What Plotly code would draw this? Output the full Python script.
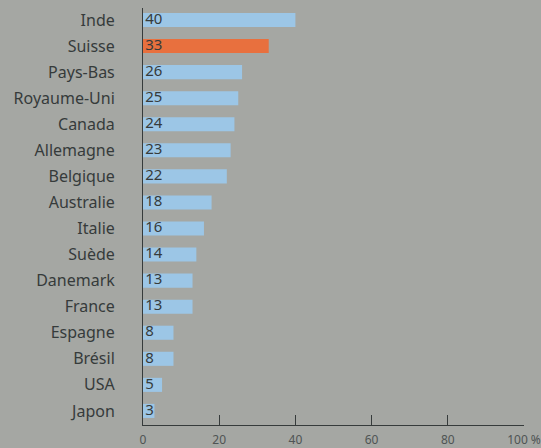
import plotly.graph_objects as go

countries = ["Inde", "Suisse", "Pays-Bas", "Royaume-Uni", "Canada", "Allemagne",
             "Belgique", "Australie", "Italie", "Suède", "Danemark", "France",
             "Espagne", "Brésil", "USA", "Japon"]
values = [40, 33, 26, 25, 24, 23, 22, 18, 16, 14, 13, 13, 8, 8, 5, 3]
highlight = "Suisse"
tick_vals = [0, 20, 40, 60, 80, 100]
tick_text = ["0", "20", "40", "60", "80", "100 %"]

BG = "#a5a7a3"
BLUE = "#9cc6e6"
ORANGE = "#e8703e"
INK = "#363b3b"

colors = [ORANGE if c == highlight else BLUE for c in countries]

fig = go.Figure()
fig.add_trace(go.Bar(
    x=values, y=countries, orientation="h",
    marker=dict(color=colors, line=dict(width=0)),
    width=0.54, hoverinfo="x+y",
))
fig.add_trace(go.Scatter(
    x=[0.6] * len(values), y=countries, mode="text",
    text=[str(v) for v in values], textposition="middle right",
    textfont=dict(family="Noto Sans", size=15, color=INK),
    hoverinfo="skip",
))

fig.update_layout(
    width=541, height=448,
    margin=dict(l=143, r=17, t=8, b=23, autoexpand=False),
    paper_bgcolor=BG, plot_bgcolor=BG,
    showlegend=False,
    xaxis=dict(
        range=[0, 100], tickvals=tick_vals, ticktext=tick_text,
        ticks="inside", ticklen=10, tickcolor=INK, tickwidth=1,
        showline=True, linecolor=INK, linewidth=1,
        showgrid=False, zeroline=False, automargin=False,
        ticklabelstandoff=4,
        tickfont=dict(family="Noto Sans", size=12, color="#4f5454"),
    ),
    yaxis=dict(
        categoryorder="array", categoryarray=countries,
        range=[15.54, -0.46],
        showline=True, linecolor=INK, linewidth=1,
        showgrid=False, zeroline=False, ticks="", automargin=False,
        ticklabelstandoff=24,
        tickfont=dict(family="Noto Sans", size=16, color=INK),
    ),
)

fig.write_html("out.html")
